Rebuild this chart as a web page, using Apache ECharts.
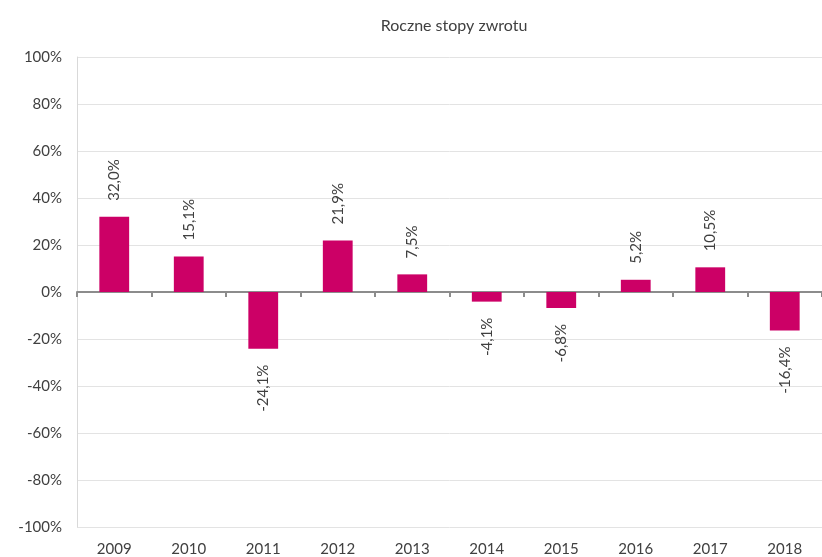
<!DOCTYPE html>
<html><head><meta charset="utf-8">
<script src="https://cdn.jsdelivr.net/npm/echarts@6/dist/echarts.min.js"></script>
<style>html,body{margin:0;padding:0;background:#fff}#c{width:822px;height:557px}</style>
</head><body><div id="c"></div>
<script>
const title = 'Roczne stopy zwrotu';
const years = ['2009','2010','2011','2012','2013','2014','2015','2016','2017','2018'];
const returns = [32.0, 15.1, -24.1, 21.9, 7.5, -4.1, -6.8, 5.2, 10.5, -16.4];
const yTicks = {min: -100, max: 100, interval: 20};

const fmt = v => v.toFixed(1).replace('.', ',') + '%';
const font = 'Lato, "Open Sans", sans-serif';
const chart = echarts.init(document.getElementById('c'));
chart.setOption({
  animation: false,
  title: {text: title, left: 449, textAlign: 'center', top: 13, textStyle: {fontFamily: font, fontSize: 16, fontWeight: 'normal', color: '#404040'}},
  grid: {left: 77, right: 0, top: 57, bottom: 30},
  xAxis: [
    {type: 'category', data: years, axisLine: {onZero: true, lineStyle: {color: '#8c8c8c', width: 2}},
     axisTick: {show: true, length: 5, lineStyle: {color: '#8c8c8c', width: 2}}, axisLabel: {show: false}},
    {type: 'category', data: years, position: 'bottom', axisLine: {show: false}, axisTick: {show: false},
     axisLabel: {fontFamily: font, fontSize: 15, color: '#404040', margin: 15}}
  ],
  yAxis: {type: 'value', min: yTicks.min, max: yTicks.max, interval: yTicks.interval,
    axisLine: {show: true, lineStyle: {color: '#d9d9d9'}},
    splitLine: {lineStyle: {color: '#e3e3e3'}},
    axisLabel: {fontFamily: font, fontSize: 15, color: '#404040', margin: 15, formatter: v => v + '%'}},
  series: [{
    type: 'bar', xAxisIndex: 0, barWidth: '40%', itemStyle: {color: '#cc0066'},
    data: returns.map(v => ({value: v, label: {
      show: true, rotate: 90, position: v >= 0 ? 'top' : 'bottom', distance: 16,
      align: v >= 0 ? 'left' : 'right', verticalAlign: 'middle',
      fontFamily: font, fontSize: 15, color: '#404040', formatter: p => fmt(p.value)}}))
  }]
});
</script></body></html>
